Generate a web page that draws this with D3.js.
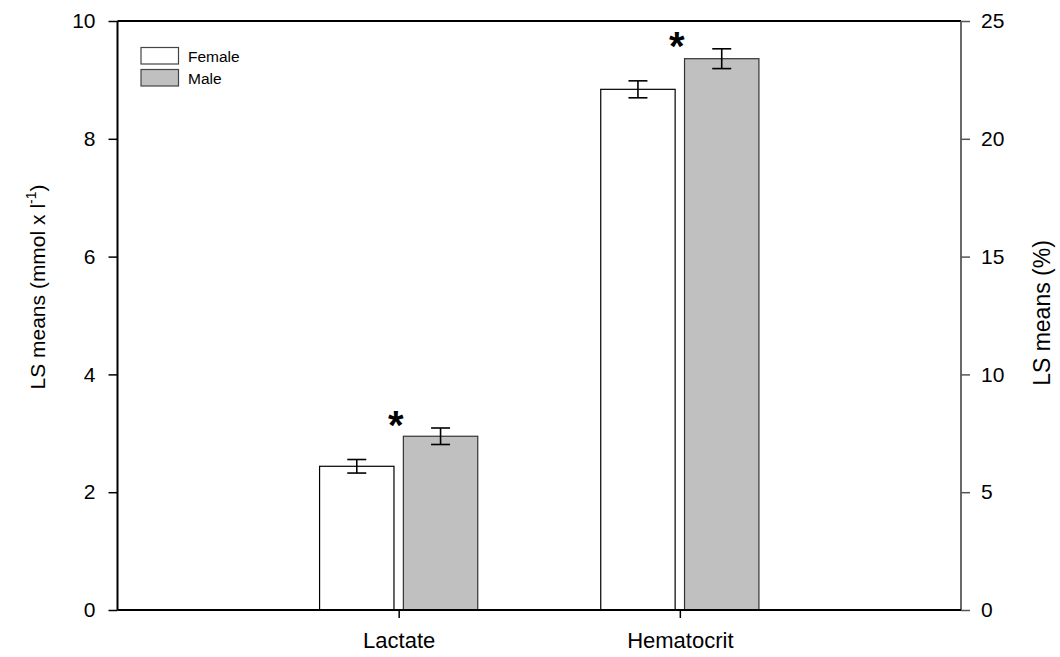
<!DOCTYPE html>
<html>
<head>
<meta charset="utf-8">
<script src="https://cdn.jsdelivr.net/npm/d3@7"></script>
<style>
  html, body { margin: 0; padding: 0; background: #fff; }
  svg { display: block; font-family: Arial, "Liberation Sans", sans-serif; }
</style>
</head>
<body>
<svg id="chart" width="1060" height="657"></svg>
<script>
// Categories and group labels
const categories = ["Lactate", "Hematocrit"];
const groups = ["Female", "Male"];

// LS means: lactate on the left axis (mmol/l), hematocrit on the right axis (%)
const lactateMeans = [2.44, 2.95];
const lactateErr = [0.115, 0.14];
const hematocritMeans = [22.1, 23.4];
const hematocritErr = [0.36, 0.42];

// Significance markers (index of category)
const significant = [true, true];

const leftTicks = [0, 2, 4, 6, 8, 10];
const rightTicks = [0, 5, 10, 15, 20, 25];

const fills = { Female: "#ffffff", Male: "#c0c0c0" };
const strokes = { Female: "#000000", Male: "#333333" };

const svg = d3.select("#chart");
const L = 117.5, R = 961, T = 21, B = 610;

const x = d3.scaleLinear().domain([0, 3]).range([L, R]);
const yLeft = d3.scaleLinear().domain([0, 10]).range([B, T]);
const yRight = d3.scaleLinear().domain([0, 25]).range([B, T]);

// Build rows: each category uses its own axis scale
const rows = [];
categories.forEach((c, ci) => {
  const means = ci === 0 ? lactateMeans : hematocritMeans;
  const errs = ci === 0 ? lactateErr : hematocritErr;
  const scale = ci === 0 ? yLeft : yRight;
  groups.forEach((g, gi) => {
    rows.push({ cat: c, ci, group: g, gi, mean: means[gi], err: errs[gi], scale });
  });
});

const barW = 0.2646;     // in category units
const offset = 0.149;    // bar center offset from category center

const bars = svg.append("g");
bars.selectAll("rect").data(rows).enter().append("rect")
  .attr("x", d => x(d.ci + 1 + (d.gi === 0 ? -offset : offset) - barW / 2))
  .attr("width", d => x(barW) - x(0))
  .attr("y", d => d.scale(d.mean))
  .attr("height", d => B - d.scale(d.mean))
  .attr("fill", d => fills[d.group])
  .attr("stroke", d => strokes[d.group])
  .attr("stroke-width", 1.2);

// Error bars
const capHalf = 9.5;
const eb = svg.append("g").attr("stroke", "#000").attr("stroke-width", 1.6).attr("fill", "none");
rows.forEach(d => {
  const cx = x(d.ci + 1 + (d.gi === 0 ? -offset : offset));
  const y1 = d.scale(d.mean + d.err), y2 = d.scale(d.mean - d.err);
  eb.append("line").attr("x1", cx).attr("x2", cx).attr("y1", y1).attr("y2", y2);
  eb.append("line").attr("x1", cx - capHalf).attr("x2", cx + capHalf).attr("y1", y1).attr("y2", y1);
  eb.append("line").attr("x1", cx - capHalf).attr("x2", cx + capHalf).attr("y1", y2).attr("y2", y2);
});

// Asterisks above the male bars
rows.filter(d => d.gi === 1 && significant[d.ci]).forEach(d => {
  svg.append("text")
    .attr("x", x(d.ci + 1) - 3)
    .attr("y", d.scale(d.mean + d.err) - 8 + 19)
    .attr("text-anchor", "middle")
    .attr("font-size", 40)
    .attr("font-weight", "bold")
    .text("*");
});

// Top frame line
svg.append("line").attr("x1", L).attr("x2", R).attr("y1", T).attr("y2", T)
  .attr("stroke", "#000").attr("stroke-width", 2);

// Left axis
const gL = svg.append("g").attr("transform", `translate(${L},0)`)
  .call(d3.axisLeft(yLeft).tickValues(leftTicks).tickSize(9).tickPadding(13).tickFormat(d3.format("d")));
gL.select(".domain").attr("stroke-width", 2).attr("d", `M0,${B}V${T}`);
gL.selectAll(".tick line").attr("stroke-width", 1.5);
gL.selectAll("text").attr("font-size", 21).attr("font-family", "Arial, 'Liberation Sans', sans-serif").attr("fill", "#000");

// Right axis
const gR = svg.append("g").attr("transform", `translate(${R},0)`)
  .call(d3.axisRight(yRight).tickValues(rightTicks).tickSize(9).tickPadding(11).tickFormat(d3.format("d")));
gR.select(".domain").attr("stroke", "#444").attr("stroke-width", 1.6).attr("d", `M0,${B}V${T}`);
gR.selectAll(".tick line").attr("stroke", "#555").attr("stroke-width", 1.5);
gR.selectAll("text").attr("font-size", 21).attr("font-family", "Arial, 'Liberation Sans', sans-serif").attr("fill", "#000");

// Bottom axis
const gB = svg.append("g").attr("transform", `translate(0,${B})`)
  .call(d3.axisBottom(x).tickValues([1, 2]).tickSize(8).tickPadding(14)
    .tickFormat(v => categories[v - 1]));
gB.select(".domain").attr("stroke-width", 2).attr("d", `M${L},0H${R}`);
gB.selectAll(".tick line").attr("stroke-width", 1.5);
gB.selectAll("text").attr("font-size", 22).attr("font-family", "Arial, 'Liberation Sans', sans-serif").attr("fill", "#000");

// Axis titles
const lt = svg.append("text")
  .attr("transform", "translate(45,287) rotate(-90)")
  .attr("text-anchor", "middle")
  .attr("font-size", 21);
lt.append("tspan").text("LS means (mmol x l");
lt.append("tspan").attr("font-size", 14).attr("dy", -9).text("-1");
lt.append("tspan").attr("dy", 9).text(")");

svg.append("text")
  .attr("transform", "translate(1050,313) rotate(-90)")
  .attr("text-anchor", "middle")
  .attr("font-size", 23)
  .text("LS means (%)");

// Legend
const legend = svg.append("g");
groups.forEach((g, i) => {
  const yy = 47.5 + i * 22;
  legend.append("rect").attr("x", 141).attr("y", yy).attr("width", 37.5).attr("height", 16.5)
    .attr("fill", fills[g]).attr("stroke", "#444").attr("stroke-width", 1.2);
  legend.append("text").attr("x", 188).attr("y", yy + 14).attr("font-size", 15.5).text(g);
});
</script>
</body>
</html>
